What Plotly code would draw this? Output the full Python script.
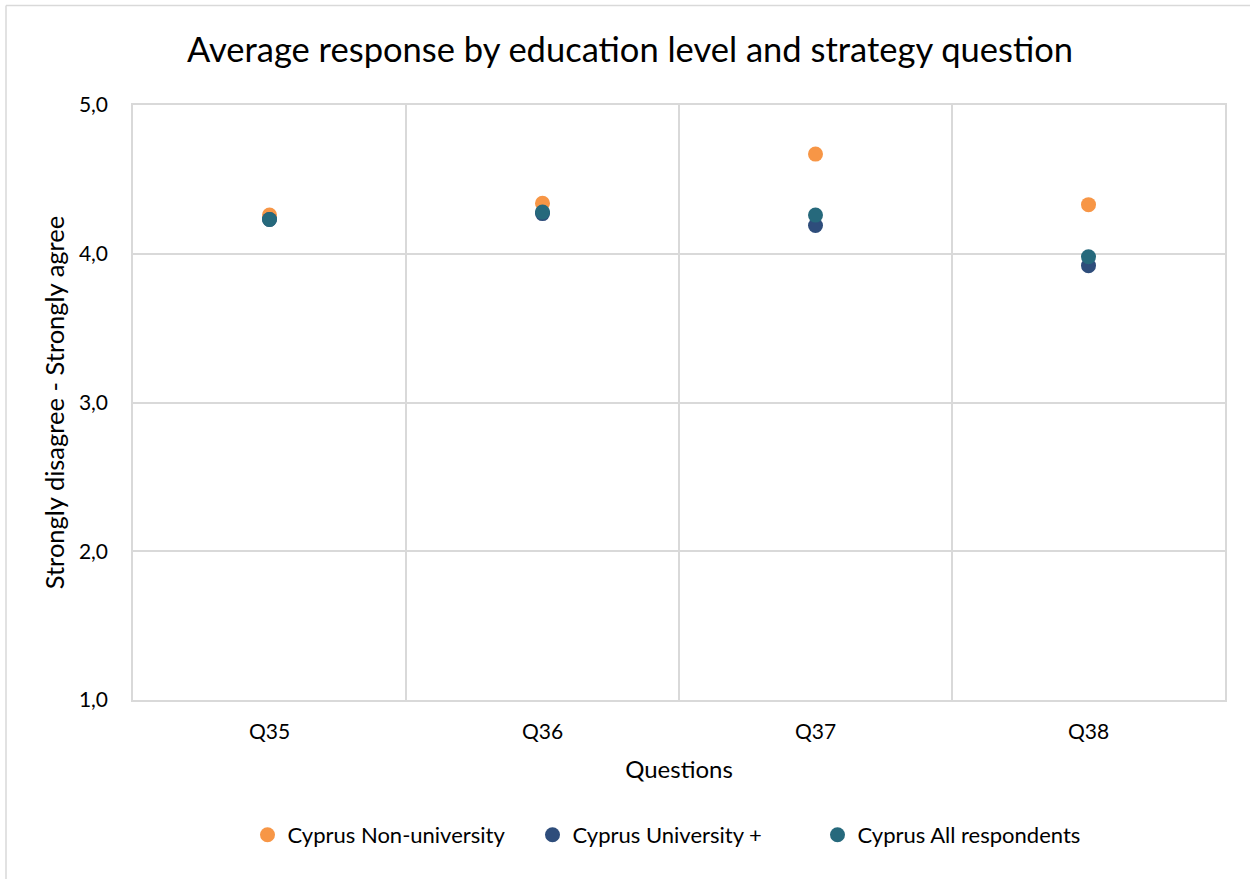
import plotly.graph_objects as go

questions = ["Q35", "Q36", "Q37", "Q38"]
non_university = [4.26, 4.34, 4.67, 4.33]
university_plus = [4.23, 4.27, 4.19, 3.92]
all_respondents = [4.23, 4.28, 4.26, 3.98]

series_names = ["Cyprus Non-university", "Cyprus University +", "Cyprus All respondents"]
series_colors = ["#F79646", "#2E4D7B", "#26697C"]
y_ticks = [1, 2, 3, 4, 5]

FONT = "Lato, 'Open Sans', sans-serif"
W, H = 1250, 879
L, R, T, B = 133, 25, 105, 179

fig = go.Figure()
for name, vals, col in zip(series_names, [non_university, university_plus, all_respondents], series_colors):
    fig.add_trace(go.Scatter(
        x=questions, y=vals, mode="markers", name=name,
        marker=dict(color=col, size=15, line=dict(width=0)),
    ))

pw = W - L - R
ph = H - T - B
def px(x):
    return (x - L) / pw
def py(y):
    return (H - B - y) / ph

# outer chart border (left and top)
fig.add_shape(type="line", xref="paper", yref="paper", x0=px(6), x1=px(6), y0=py(5.5), y1=py(900),
              line=dict(color="#D9D9D9", width=1.5))
fig.add_shape(type="line", xref="paper", yref="paper", x0=px(6), x1=px(1260), y0=py(5.5), y1=py(5.5),
              line=dict(color="#D9D9D9", width=1.5))

fig.update_layout(
    width=W, height=H,
    margin=dict(l=L, r=R, t=T, b=B),
    paper_bgcolor="white", plot_bgcolor="white",
    separators=",.",
    font=dict(family=FONT, color="#000000", size=21),
    title=dict(text="Average response by education level and strategy question",
               x=(187 + 1073) / 2 / W, xanchor="center", y=1 - 50 / H, yanchor="middle",
               font=dict(size=34.5, color="#000000", family=FONT)),
    xaxis=dict(
        type="category", range=[-0.5, 3.5], tickson="boundaries",
        showgrid=True, gridcolor="#D9D9D9", gridwidth=1.5,
        showline=True, linecolor="#D9D9D9", linewidth=1.5, mirror=True,
        ticks="", ticklabelstandoff=12, tickfont=dict(size=21, family=FONT),
        title=dict(text="Questions", font=dict(size=24, family=FONT), standoff=19),
        zeroline=False,
    ),
    yaxis=dict(
        range=[1, 5], tickvals=y_ticks, tickformat=".1f",
        showgrid=True, gridcolor="#D9D9D9", gridwidth=1.5,
        showline=True, linecolor="#D9D9D9", linewidth=1.5, mirror=True,
        ticks="", ticklabelstandoff=19, tickfont=dict(size=21, family=FONT),
        title=dict(text="Strongly disagree - Strongly agree", font=dict(size=25.5, family=FONT), standoff=7),
        zeroline=False,
    ),
    legend=dict(orientation="h", x=px(675), xanchor="center", y=py(835), yanchor="middle",
                font=dict(size=22, family=FONT), itemwidth=30, tracegroupgap=0,
                itemsizing="trace", entrywidth=240, entrywidthmode="pixels"),
    showlegend=True,
)

fig.write_html("out.html")
